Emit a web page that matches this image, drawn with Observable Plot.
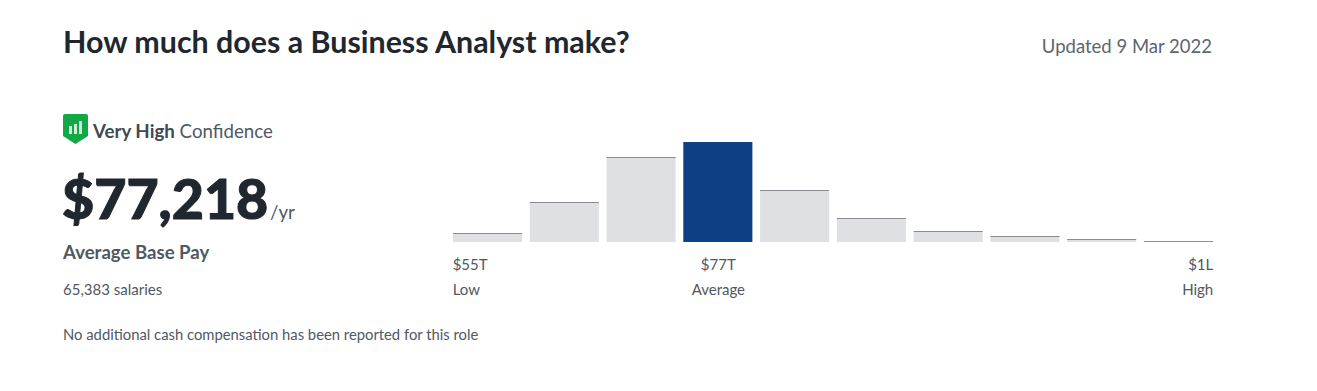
<!DOCTYPE html>
<html>
<head>
<meta charset="utf-8">
<script src="https://cdn.jsdelivr.net/npm/d3@7"></script>
<script src="https://cdn.jsdelivr.net/npm/@observablehq/plot@0.6"></script>
<style>
html,body{margin:0;padding:0;background:#fff;width:1317px;height:391px;overflow:hidden}
body{position:relative;font-family:Lato,sans-serif;color:#505863}
.t{position:absolute;white-space:nowrap;line-height:1}
#chart{position:absolute;left:0;top:0}
</style>
</head>
<body>
<div id="chart"></div>
<div class="t" style="left:63px;top:26px;font-size:30.400px;font-weight:700;color:#20272f">How much does a Business Analyst make?</div>
<div class="t" style="right:105px;top:37px;font-size:18.500px;color:#5d6570">Updated 9 Mar 2022</div>
<svg style="position:absolute;left:63px;top:114px" width="26" height="31" viewBox="0 0 26 31">
  <path d="M2 0H23a2 2 0 0 1 2 2V22L12.500 30L0 22V2a2 2 0 0 1 2-2Z" fill="#12a846"/>
  <rect x="6" y="12" width="3" height="8" fill="#fff" opacity=".8"/>
  <rect x="11" y="10" width="3" height="10" fill="#fff" opacity=".8"/>
  <rect x="16" y="7" width="3" height="13" fill="#fff" opacity=".8"/>
</svg>
<div class="t" style="left:93px;top:122px;font-size:18.700px;color:#505863"><b style="color:#404953">Very High</b> Confidence</div>
<div class="t" style="left:62px;top:170px;font-size:55.500px;font-weight:900;-webkit-text-stroke:1px #20272f;color:#20272f">$77,218</div>
<div class="t" style="left:270px;top:203px;font-size:18.700px;color:#505863">/yr</div>
<div class="t" style="left:63px;top:243px;font-size:18.600px;font-weight:700;color:#505863">Average Base Pay</div>
<div class="t" style="left:63px;top:282px;font-size:15px;color:#505863">65,383 salaries</div>
<div class="t" style="left:63px;top:327px;font-size:14.800px;color:#505863">No additional cash compensation has been reported for this role</div>
<script>
const bins = [0, 1, 2, 3, 4, 5, 6, 7, 8, 9];
const shares = [9, 40, 85, 100, 52, 24, 11, 6, 3, 1];
const averageBin = 3;
const payLabels = [
  {bin: 0, text: "$55T", row: "pay", align: "start"},
  {bin: 3, text: "$77T", row: "pay", align: "middle"},
  {bin: 9, text: "$1L", row: "pay", align: "end"}
];
const rangeLabels = [
  {bin: 0, text: "Low", row: "range", align: "start"},
  {bin: 3, text: "Average", row: "range", align: "middle"},
  {bin: 9, text: "High", row: "range", align: "end"}
];
const rows = bins.map(i => ({bin: i, share: shares[i], avg: i === averageBin}));
const labels = payLabels.concat(rangeLabels);
const labelMark = (row, align, dx, dy) => Plot.text(
  labels.filter(d => d.row === row && d.align === align),
  {x: "bin", y: () => 0, text: "text", textAnchor: align, dx, dy, fill: "#505863", fontSize: 15}
);
const plot = Plot.plot({
  width: 1317,
  height: 391,
  marginLeft: 453,
  marginRight: 104,
  marginTop: 142,
  marginBottom: 149,
  style: {fontFamily: "Lato, sans-serif", background: "transparent", overflow: "visible"},
  x: {type: "band", domain: bins, paddingInner: 0.1, paddingOuter: 0, align: 0.5, round: false, axis: null},
  y: {domain: [0, 100], axis: null},
  marks: [
    Plot.barY(rows, {x: "bin", y: "share", fill: d => d.avg ? "#0e3f84" : "#dfe0e3"}),
    Plot.tickY(rows.filter(d => !d.avg), {x: "bin", y: "share", stroke: "#8a8c91", strokeWidth: 1}),
    labelMark("pay", "start", -35.4, 23),
    labelMark("pay", "middle", 0, 23),
    labelMark("pay", "end", 34.3, 23),
    labelMark("range", "start", -35.4, 48),
    labelMark("range", "middle", 0, 48),
    labelMark("range", "end", 34.3, 48)
  ]
});
document.getElementById("chart").appendChild(plot);
</script>
</body>
</html>
